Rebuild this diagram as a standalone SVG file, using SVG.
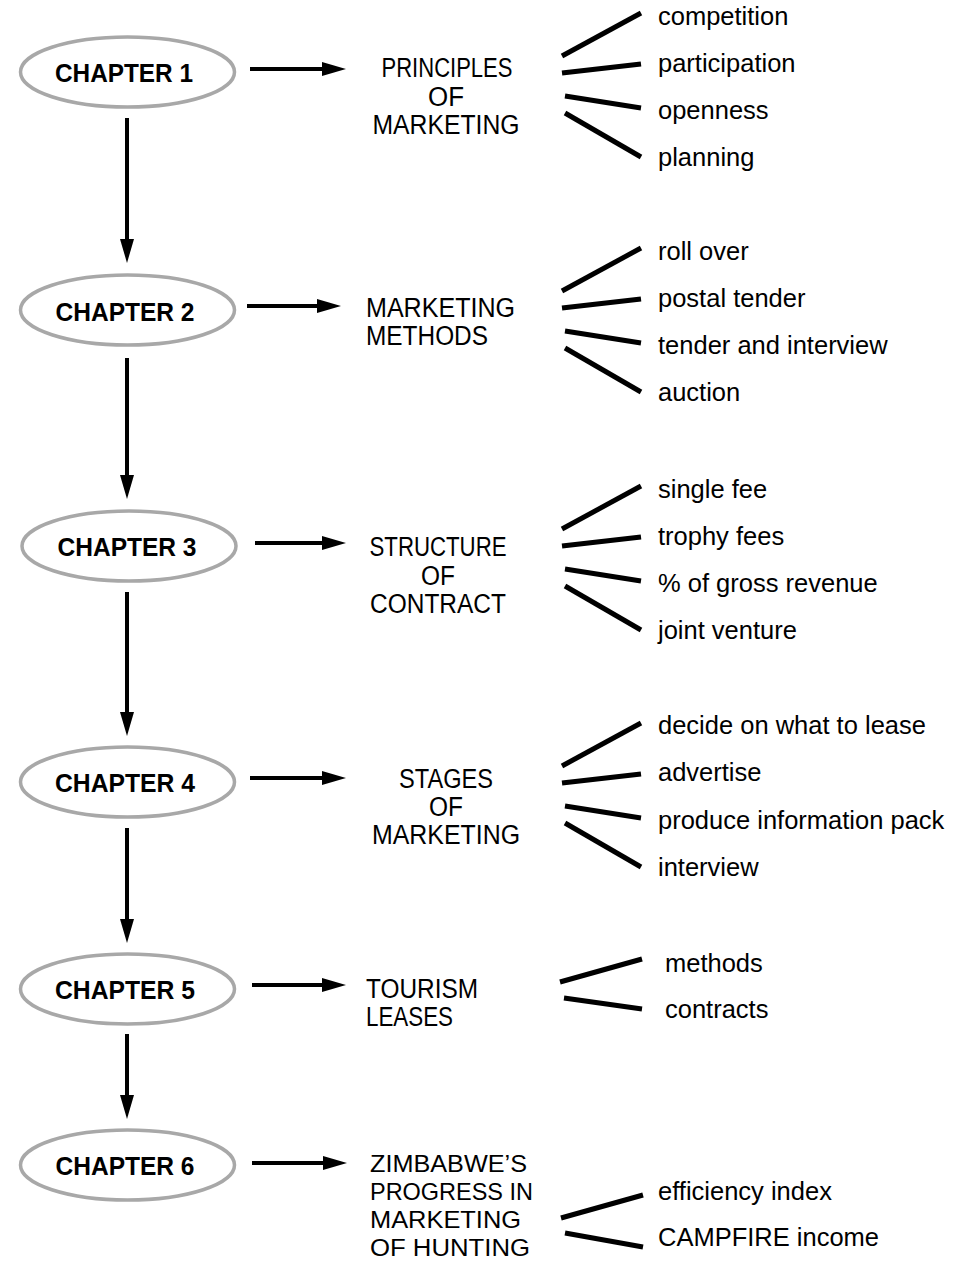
<svg xmlns="http://www.w3.org/2000/svg" width="957" height="1262" viewBox="0 0 957 1262">
<style>
.ell{fill:#fff;stroke:#a8a8a8;stroke-width:3.5}
.ch{font-family:"Liberation Sans",Arial,sans-serif;font-weight:bold;font-size:26px;fill:#000;text-anchor:middle}
.mid{font-family:"Liberation Sans",Arial,sans-serif;font-size:27px;fill:#000}
.c{text-anchor:middle}
.z{font-size:24.5px}
.item{font-family:"Liberation Sans",Arial,sans-serif;font-size:25.5px;fill:#000}
.arr{stroke:#000;stroke-width:4;fill:none;marker-end:url(#ah)}
.br{stroke:#000;stroke-width:5;fill:none}
</style>
<defs>
<marker id="ah" markerUnits="userSpaceOnUse" markerWidth="24" markerHeight="14" refX="0" refY="7" orient="auto" overflow="visible">
<path d="M0,0 L24,7 L0,14 z" fill="#000"/>
</marker>
</defs>

<g id="connectors">
<line class="arr" x1="250" y1="69" x2="322" y2="69"/>
<line class="arr" x1="247" y1="306" x2="317" y2="306"/>
<line class="arr" x1="255" y1="543" x2="322" y2="543"/>
<line class="arr" x1="250" y1="778" x2="322" y2="778"/>
<line class="arr" x1="252" y1="985" x2="322" y2="985"/>
<line class="arr" x1="252" y1="1163" x2="323" y2="1163"/>
<line class="arr" x1="127" y1="118" x2="127" y2="239"/>
<line class="arr" x1="127" y1="358" x2="127" y2="475"/>
<line class="arr" x1="127" y1="592" x2="127" y2="712"/>
<line class="arr" x1="127" y1="828" x2="127" y2="919"/>
<line class="arr" x1="127" y1="1034" x2="127" y2="1095"/>
<line class="br" x1="562" y1="56" x2="641" y2="13"/>
<line class="br" x1="562" y1="73" x2="641" y2="64"/>
<line class="br" x1="565" y1="96" x2="641" y2="108"/>
<line class="br" x1="565" y1="113" x2="641" y2="157"/>
<line class="br" x1="562" y1="291" x2="641" y2="248"/>
<line class="br" x1="562" y1="308" x2="641" y2="299"/>
<line class="br" x1="565" y1="331" x2="641" y2="343"/>
<line class="br" x1="565" y1="348" x2="641" y2="392"/>
<line class="br" x1="562" y1="529" x2="641" y2="486"/>
<line class="br" x1="562" y1="546" x2="641" y2="537"/>
<line class="br" x1="565" y1="569" x2="641" y2="581"/>
<line class="br" x1="565" y1="586" x2="641" y2="630"/>
<line class="br" x1="562" y1="766" x2="641" y2="723"/>
<line class="br" x1="562" y1="783" x2="641" y2="774"/>
<line class="br" x1="565" y1="806" x2="641" y2="818"/>
<line class="br" x1="565" y1="823" x2="641" y2="867"/>
<line class="br" x1="560" y1="982" x2="642" y2="959"/>
<line class="br" x1="564" y1="998" x2="642" y2="1009"/>
<line class="br" x1="561" y1="1218" x2="643" y2="1195"/>
<line class="br" x1="565" y1="1233" x2="643" y2="1247"/>
</g>

<g id="chapter1">
<ellipse class="ell" cx="127.5" cy="72" rx="107" ry="35"/>
<text class="ch" x="124" y="82" textLength="138" lengthAdjust="spacingAndGlyphs">CHAPTER 1</text>
</g>
<g id="chapter2">
<ellipse class="ell" cx="127.5" cy="310" rx="107" ry="35"/>
<text class="ch" x="125" y="321" textLength="139" lengthAdjust="spacingAndGlyphs">CHAPTER 2</text>
</g>
<g id="chapter3">
<ellipse class="ell" cx="129" cy="546" rx="107" ry="35"/>
<text class="ch" x="127" y="556" textLength="139" lengthAdjust="spacingAndGlyphs">CHAPTER 3</text>
</g>
<g id="chapter4">
<ellipse class="ell" cx="127.5" cy="782" rx="107" ry="35"/>
<text class="ch" x="125" y="792" textLength="140" lengthAdjust="spacingAndGlyphs">CHAPTER 4</text>
</g>
<g id="chapter5">
<ellipse class="ell" cx="127.5" cy="989" rx="107" ry="35"/>
<text class="ch" x="125" y="999" textLength="140" lengthAdjust="spacingAndGlyphs">CHAPTER 5</text>
</g>
<g id="chapter6">
<ellipse class="ell" cx="127.5" cy="1165" rx="107" ry="35"/>
<text class="ch" x="125" y="1175" textLength="139" lengthAdjust="spacingAndGlyphs">CHAPTER 6</text>
</g>

<g id="principles">
<text class="mid c" x="447" y="77" textLength="131" lengthAdjust="spacingAndGlyphs">PRINCIPLES</text>
<text class="mid c" x="446" y="106" textLength="36" lengthAdjust="spacingAndGlyphs">OF</text>
<text class="mid c" x="446" y="134" textLength="147" lengthAdjust="spacingAndGlyphs">MARKETING</text>
</g>
<g id="methods">
<text class="mid" x="366" y="317" textLength="149" lengthAdjust="spacingAndGlyphs">MARKETING</text>
<text class="mid" x="366" y="345" textLength="122" lengthAdjust="spacingAndGlyphs">METHODS</text>
</g>
<g id="structure">
<text class="mid c" x="438" y="556" textLength="137" lengthAdjust="spacingAndGlyphs">STRUCTURE</text>
<text class="mid c" x="438" y="585" textLength="34" lengthAdjust="spacingAndGlyphs">OF</text>
<text class="mid c" x="438" y="613" textLength="136" lengthAdjust="spacingAndGlyphs">CONTRACT</text>
</g>
<g id="stages">
<text class="mid c" x="446" y="788" textLength="94" lengthAdjust="spacingAndGlyphs">STAGES</text>
<text class="mid c" x="446" y="816" textLength="34" lengthAdjust="spacingAndGlyphs">OF</text>
<text class="mid c" x="446" y="844" textLength="148" lengthAdjust="spacingAndGlyphs">MARKETING</text>
</g>
<g id="tourism">
<text class="mid" x="366" y="998" textLength="112" lengthAdjust="spacingAndGlyphs">TOURISM</text>
<text class="mid" x="366" y="1026" textLength="87" lengthAdjust="spacingAndGlyphs">LEASES</text>
</g>
<g id="zimbabwe">
<text class="mid z" x="370" y="1172" textLength="157" lengthAdjust="spacingAndGlyphs">ZIMBABWE’S</text>
<text class="mid z" x="370" y="1200" textLength="163" lengthAdjust="spacingAndGlyphs">PROGRESS IN</text>
<text class="mid z" x="370" y="1228" textLength="151" lengthAdjust="spacingAndGlyphs">MARKETING</text>
<text class="mid z" x="370" y="1256" textLength="160" lengthAdjust="spacingAndGlyphs">OF HUNTING</text>
</g>

<g id="items1">
<text class="item" x="658" y="25">competition</text>
<text class="item" x="658" y="72">participation</text>
<text class="item" x="658" y="119">openness</text>
<text class="item" x="658" y="166">planning</text>
</g>
<g id="items2">
<text class="item" x="658" y="260">roll over</text>
<text class="item" x="658" y="307">postal tender</text>
<text class="item" x="658" y="354">tender and interview</text>
<text class="item" x="658" y="401">auction</text>
</g>
<g id="items3">
<text class="item" x="658" y="498">single fee</text>
<text class="item" x="658" y="545">trophy fees</text>
<text class="item" x="658" y="592">% of gross revenue</text>
<text class="item" x="658" y="639">joint venture</text>
</g>
<g id="items4">
<text class="item" x="658" y="734">decide on what to lease</text>
<text class="item" x="658" y="781">advertise</text>
<text class="item" x="658" y="829">produce information pack</text>
<text class="item" x="658" y="876">interview</text>
</g>
<g id="items5">
<text class="item" x="665" y="972">methods</text>
<text class="item" x="665" y="1018">contracts</text>
</g>
<g id="items6">
<text class="item" x="658" y="1200">efficiency index</text>
<text class="item" x="658" y="1246">CAMPFIRE income</text>
</g>
</svg>
